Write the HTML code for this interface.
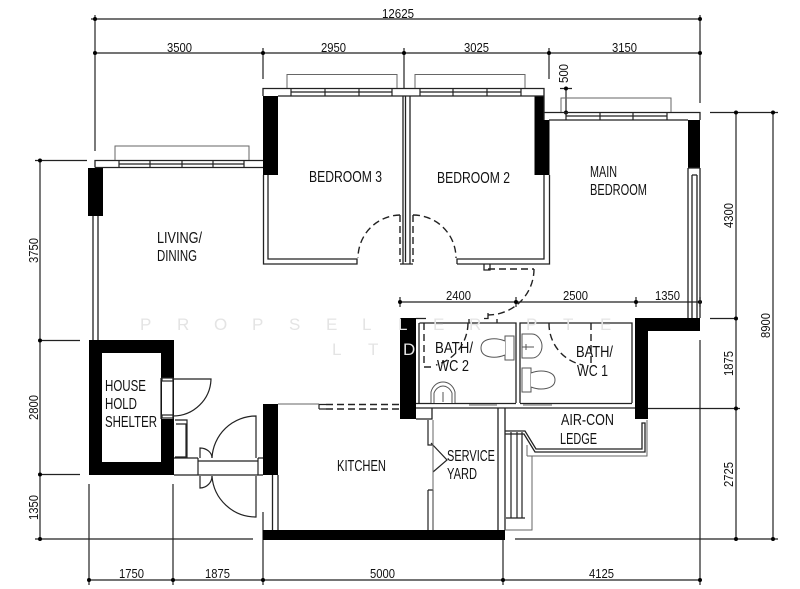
<!DOCTYPE html>
<html><head><meta charset="utf-8"><style>
html,body{margin:0;padding:0;background:#fff}
svg{display:block;filter:blur(.35px)}
text{font-family:"Liberation Sans",sans-serif;fill:#111}
.d{font-size:13px}
.l{font-size:16px}
.w{fill:none;stroke:#222;stroke-width:1.3}
.t{fill:none;stroke:#222;stroke-width:1.2}
.g{fill:none;stroke:#666;stroke-width:1}
.da{fill:none;stroke:#222;stroke-width:1.4;stroke-dasharray:7 4}
.k{fill:#000}
</style></head><body>
<svg width="800" height="589" viewBox="0 0 800 589" xmlns="http://www.w3.org/2000/svg">
<rect width="800" height="589" fill="#fff"/>

<!-- dimension lines -->
<g class="t" stroke-linecap="butt">
<path d="M91 19H700M95 15V151M95 53H700M263 48V79M404 48V88M549 48V79M700 15V103"/>
<path d="M35 160.500H87M40 160V539M40 340.500H80M40 474.500H80M35 539H253"/>
<path d="M89 484V585M173 484V585M263 512V585M503 540V585M700 340V585M89 580H700"/>
<path d="M710 112.500H778M736 112V539M773 112V539M710 318.500H736M648 408.500H740M515 539H778"/>
<path d="M400 302H700M400 297V307M516 297V307M636 297V307M700 297V307"/>
<path d="M566 88V113M560 88.500H572"/>
</g>
<g class="k">
<circle cx="95" cy="19" r="2"/><circle cx="700" cy="19" r="2"/><circle cx="95" cy="53" r="2"/><circle cx="263" cy="53" r="2"/><circle cx="404" cy="53" r="2"/><circle cx="549" cy="53" r="2"/><circle cx="700" cy="53" r="2"/>
<circle cx="40" cy="160.500" r="2"/><circle cx="40" cy="340.500" r="2"/><circle cx="40" cy="474.500" r="2"/><circle cx="40" cy="539" r="2"/>
<circle cx="89" cy="580" r="2"/><circle cx="173" cy="580" r="2"/><circle cx="263" cy="580" r="2"/><circle cx="503" cy="580" r="2"/><circle cx="700" cy="580" r="2"/>
<circle cx="736" cy="112.500" r="2"/><circle cx="773" cy="112.500" r="2"/><circle cx="736" cy="318.500" r="2"/><circle cx="736" cy="408.500" r="2"/><circle cx="736" cy="539" r="2"/><circle cx="773" cy="539" r="2"/>
<circle cx="400" cy="302" r="2"/><circle cx="516" cy="302" r="2"/><circle cx="636" cy="302" r="2"/><circle cx="700" cy="302" r="2"/>
<circle cx="566" cy="88.500" r="2"/><circle cx="566" cy="112.500" r="2"/>
</g>

<!-- black walls -->
<g class="k">
<rect x="88" y="168" width="15" height="48"/>
<rect x="263" y="96" width="15" height="79"/>
<path d="M534.500 96H544V120H549.500V175H534.500Z"/>
<rect x="688" y="120" width="12" height="48"/>
<path d="M635 318H700V331H648V419H635Z"/>
<rect x="400" y="318" width="16" height="101"/>
<path fill-rule="evenodd" d="M89 340H174V475H89ZM102 353V462H161V353Z"/>
<rect x="263" y="404" width="15" height="71"/>
<rect x="263" y="530" width="242" height="10"/>
</g>
<rect x="162" y="378" width="11" height="41" fill="#fff"/>

<!-- upper walls -->
<g class="w">
<path d="M95 167.500V160.500H263M95 167.500H263"/>
<path d="M263 96V88.500H534M278 96H544V120M534 88.500H544V112.500H700V120M549 120H688"/>
<path d="M93 216V340M98 216V340"/>
<path d="M263.500 175V264H357V259H268V175"/>
<path d="M403 96V264M405.500 96V262M410 96V264M400 264H413"/>
<path d="M457 264V259H544V175M549.500 175V264H457"/>
<path d="M484 264V270H490V264"/>
<path d="M688 168V318M700 168V318M692 175V318M697 175V318M692 175H697M688 168H700"/>
</g>
<!-- windows -->
<g class="t">
<path d="M119 160.500V168M244 160.500V168M119 164H244M150 160.500V168M182 160.500V168M213 160.500V168"/>
<path d="M291 88.500V96M392 88.500V96M291 92H392M325 88.500V96M359 88.500V96"/>
<path d="M420 88.500V96M521 88.500V96M420 92H521M453 88.500V96M487 88.500V96"/>
<path d="M566 112.500V120M667 112.500V120M566 116H667M600 112.500V120M633 112.500V120"/>
</g>
<g class="g">
<path d="M115 160V146H249V160"/>
<path d="M287 88V74.500H397V88"/>
<path d="M415 88V74.500H525V88"/>
<path d="M561 112V98H671V112"/>
</g>
<!-- bedroom doors -->
<g class="da">
<path d="M400 215V262M413 215V262"/>
<path d="M400 215A43 43 0 0 0 358 258"/>
<path d="M413 215A43 43 0 0 1 456 258"/>
<path d="M488 269H534"/>
<path d="M534 269A46 46 0 0 1 488 315"/>
</g>

<!-- bathrooms -->
<g class="w">
<path d="M416 403.500H516M520 403.500H632M416 408H635"/>
<path d="M419 323V403M419.500 323H516V403M520 403V323H632V403"/>
<path d="M416 318.500H426M484 318.500H488V313"/>
<path d="M469 319V323M497 319V323"/>
</g>
<g class="da">
<path d="M424 323V367H432"/>
<path d="M468 323A44 44 0 0 1 436 365"/>
<path d="M591 323V367"/>
<path d="M549 323A42 42 0 0 0 583 365"/>
</g>
<g fill="#fff" stroke="#555" stroke-width="1">
<rect x="505" y="336" width="9" height="24"/>
<path d="M505 341C495 337 481 338 481 348C481 358 495 359 505 355"/>
<path d="M522 334H532C538 334 542 341 542 346C542 352 538 358 532 358H522Z"/>
<path d="M522 347H534M526 344V350"/>
<rect x="522" y="368" width="9" height="24"/>
<path d="M531 373C541 369 555 371 555 380C555 389 541 391 531 387"/>
<path d="M431 403V392C433 385 438 382 443 382C448 382 453 385 455 392V403"/>
<path d="M434 403V393C436 388 440 386 443 386C446 386 450 388 452 393V403M443 392V402"/>
</g>
<g class="g" fill="none">
<path d="M469 405H497M523 405H552"/>
</g>

<!-- shelter door -->
<g class="t">
<path d="M161 378V419M173 378V419"/>
<rect x="162" y="378" width="11" height="3"/>
<rect x="162" y="415" width="11" height="3"/>
<path d="M173 379H211A38 38 0 0 1 173 416"/>
<path d="M175 420H187V457H175M176 424H186V457"/>
</g>
<!-- entrance -->
<g class="t">
<path d="M174 458H198M174 475H263M198 461H258M198 461V475M258 458V475"/>
<path d="M198 458V461M258 458H263"/>
<path d="M256 458V416A44 44 0 0 0 212 458"/>
<path d="M256 476V517A44 44 0 0 1 212 476"/>
<path d="M200 458V448A12 10 0 0 1 212 458"/>
<path d="M200 476V488A12 12 0 0 0 212 476"/>
</g>
<!-- kitchen -->
<g>
<path class="g" d="M278 404H319"/>
<path d="M319 404.500V409M319 404.500H326M319 409H326" class="t"/>
<path class="da" d="M326 404.500H400M326 409H400"/>
<path class="w" d="M272.500 475V530M278 475V530"/>
</g>
<!-- service yard -->
<g class="w">
<path d="M416 419H432V408"/>
<path d="M498 408V530M505 408V530"/>
</g>
<g class="t">
<path d="M428 420V445H433M428 490V530M433 490V530M428 490H433"/>
<path d="M431 443L447 460L433 472"/>
</g>
<path class="g" d="M433 420V530"/>
<!-- ledge -->
<g class="w">
<path d="M505 431H525L536 449H642V423H645V452H535L524 434H505"/>
</g>
<g class="t">
<path d="M511 432V518M517 432V518M522 432V518M506 518H525"/>
</g>
<path class="g" d="M527 456H647V420M527 445V456M532 456V530H505"/>

<!-- dimension text -->
<g class="d">
<text x="382" y="18" textLength="32" lengthAdjust="spacingAndGlyphs">12625</text>
<text x="167" y="52" textLength="25" lengthAdjust="spacingAndGlyphs">3500</text>
<text x="321" y="52" textLength="25" lengthAdjust="spacingAndGlyphs">2950</text>
<text x="464" y="52" textLength="25" lengthAdjust="spacingAndGlyphs">3025</text>
<text x="612" y="52" textLength="25" lengthAdjust="spacingAndGlyphs">3150</text>
<text x="446" y="300" textLength="25" lengthAdjust="spacingAndGlyphs">2400</text>
<text x="563" y="300" textLength="25" lengthAdjust="spacingAndGlyphs">2500</text>
<text x="655" y="300" textLength="25" lengthAdjust="spacingAndGlyphs">1350</text>
<text x="119" y="578" textLength="25" lengthAdjust="spacingAndGlyphs">1750</text>
<text x="205" y="578" textLength="25" lengthAdjust="spacingAndGlyphs">1875</text>
<text x="370" y="578" textLength="25" lengthAdjust="spacingAndGlyphs">5000</text>
<text x="589" y="578" textLength="25" lengthAdjust="spacingAndGlyphs">4125</text>
<text transform="translate(38 263) rotate(-90)" textLength="25" lengthAdjust="spacingAndGlyphs">3750</text>
<text transform="translate(38 420) rotate(-90)" textLength="25" lengthAdjust="spacingAndGlyphs">2800</text>
<text transform="translate(38 520) rotate(-90)" textLength="25" lengthAdjust="spacingAndGlyphs">1350</text>
<text transform="translate(733 228) rotate(-90)" textLength="25" lengthAdjust="spacingAndGlyphs">4300</text>
<text transform="translate(733 376) rotate(-90)" textLength="25" lengthAdjust="spacingAndGlyphs">1875</text>
<text transform="translate(733 487) rotate(-90)" textLength="25" lengthAdjust="spacingAndGlyphs">2725</text>
<text transform="translate(770 338) rotate(-90)" textLength="25" lengthAdjust="spacingAndGlyphs">8900</text>
<text transform="translate(568 83) rotate(-90)" textLength="19" lengthAdjust="spacingAndGlyphs">500</text>
</g>

<!-- room labels -->
<g class="l">
<text x="309" y="182" textLength="73" lengthAdjust="spacingAndGlyphs">BEDROOM 3</text>
<text x="437" y="183" textLength="73" lengthAdjust="spacingAndGlyphs">BEDROOM 2</text>
<text x="590" y="177" textLength="27" lengthAdjust="spacingAndGlyphs">MAIN</text>
<text x="590" y="195" textLength="57" lengthAdjust="spacingAndGlyphs">BEDROOM</text>
<text x="157" y="243" textLength="45" lengthAdjust="spacingAndGlyphs">LIVING/</text>
<text x="157" y="261" textLength="40" lengthAdjust="spacingAndGlyphs">DINING</text>
<text x="105" y="391" textLength="41" lengthAdjust="spacingAndGlyphs">HOUSE</text>
<text x="105" y="409" textLength="32" lengthAdjust="spacingAndGlyphs">HOLD</text>
<text x="105" y="427" textLength="52" lengthAdjust="spacingAndGlyphs">SHELTER</text>
<text x="337" y="471" textLength="49" lengthAdjust="spacingAndGlyphs">KITCHEN</text>
<text x="447" y="461" textLength="48" lengthAdjust="spacingAndGlyphs">SERVICE</text>
<text x="447" y="479" textLength="30" lengthAdjust="spacingAndGlyphs">YARD</text>
<text x="435" y="353" textLength="38" lengthAdjust="spacingAndGlyphs">BATH/</text>
<text x="437" y="371" textLength="32" lengthAdjust="spacingAndGlyphs">WC 2</text>
<text x="576" y="357" textLength="37" lengthAdjust="spacingAndGlyphs">BATH/</text>
<text x="577" y="376" textLength="31" lengthAdjust="spacingAndGlyphs">WC 1</text>
<text x="561" y="425" textLength="53" lengthAdjust="spacingAndGlyphs">AIR-CON</text>
<text x="560" y="444" textLength="37" lengthAdjust="spacingAndGlyphs">LEDGE</text>
</g>

<!-- watermark -->
<g style="font-size:17px">
<text style="fill:#e4e4e4" y="330" x="140 177 214 252 289 326 362 398 433 469 526 563 600">PROPSELLERPTE</text>
<text style="fill:#e4e4e4" y="355" x="332 368 403">LTD</text>
</g>
</svg>
</body></html>
